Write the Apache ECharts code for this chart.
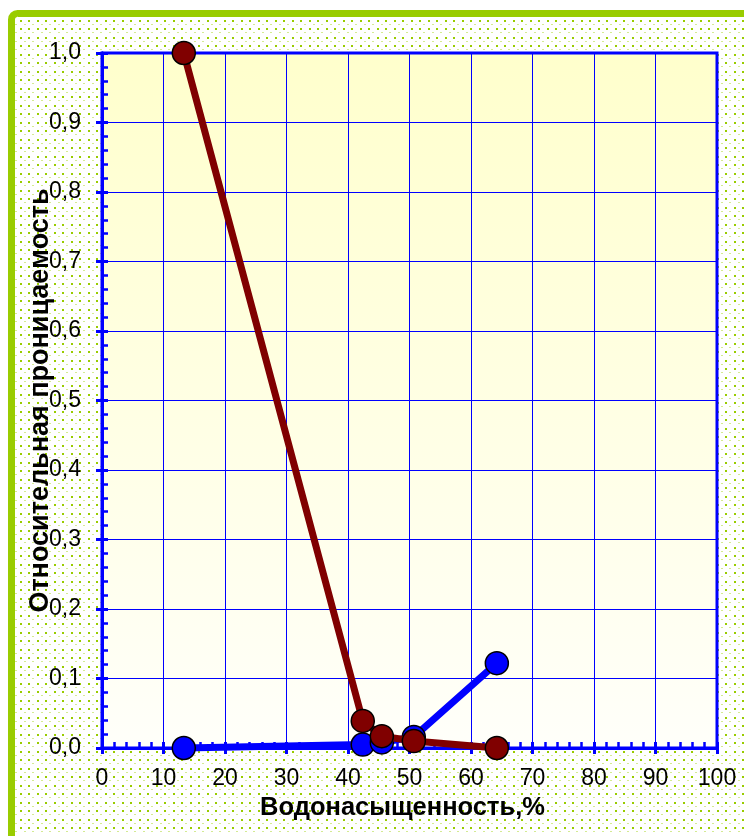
<!DOCTYPE html>
<html>
<head>
<meta charset="utf-8">
<script src="https://cdn.jsdelivr.net/npm/echarts@6/dist/echarts.min.js"></script>
<style>
html,body{margin:0;padding:0;background:#fff;}
#chart{width:744px;height:836px;}
</style>
</head>
<body>
<div id="chart"></div>
<script>
// Data
var waterSaturation = [13.3, 42.4, 45.5, 50.7, 64.2];
var brownSeries = [1.0, 0.039, 0.017, 0.010, 0.0];
var blueSeries = [0.0, 0.005, 0.008, 0.016, 0.122];
var xTicks = [0, 10, 20, 30, 40, 50, 60, 70, 80, 90, 100];
var yTicks = [0.0, 0.1, 0.2, 0.3, 0.4, 0.5, 0.6, 0.7, 0.8, 0.9, 1.0];
var xAxisTitle = 'Водонасыщенность,%';
var yAxisTitle = 'Относительная проницаемость';

function pairs(xs, ys) { return xs.map(function (x, i) { return [x, ys[i]]; }); }

// dotted background pattern
var tile = document.createElement('canvas');
tile.width = 17; tile.height = 17;
var tc = tile.getContext('2d');
tc.fillStyle = '#ffffff'; tc.fillRect(0, 0, 17, 17);
tc.fillStyle = '#99cc00';
[[0,0],[8,0],[0,8],[8,8]].forEach(function (p) { tc.fillRect(p[0] + 3, p[1] + 3, 2, 2); });
tc.fillStyle = '#d4ea94';
[[4,4],[12,4],[4,12],[12,12]].forEach(function (p) { tc.fillRect(p[0] + 3, p[1] + 3, 2, 1); });

var chart = echarts.init(document.getElementById('chart'), null, { renderer: 'canvas' });
var font = '"Liberation Sans", Arial, sans-serif';
var blue = '#0000ff';

var axisCommon = {
  type: 'value',
  axisLine: { show: true, onZero: false, lineStyle: { color: blue, width: 3 } }
};

var option = {
  backgroundColor: '#ffffff',
  animation: false,
  graphic: [{
    type: 'rect',
    z: -10,
    shape: { x: 11.5, y: 13.5, width: 800, height: 900, r: 6 },
    style: { fill: { image: tile, repeat: 'repeat' }, stroke: '#99cc00', lineWidth: 7 }
  }],
  grid: {
    left: 102, right: 27, top: 53, bottom: 88,
    show: true,
    borderColor: blue, borderWidth: 3,
    backgroundColor: {
      type: 'linear', x: 0, y: 0, x2: 0, y2: 1,
      colorStops: [{ offset: 0, color: '#ffffcc' }, { offset: 1, color: '#fffffa' }]
    }
  },
  xAxis: [
    Object.assign({}, axisCommon, {
      min: 0, max: 100, interval: 10, position: 'bottom',
      name: xAxisTitle, nameLocation: 'middle', nameGap: 43,
      nameTextStyle: { fontFamily: font, fontSize: 25.5, fontWeight: 'bold', color: '#000', padding: [0, 14, 0, 0] },
      axisTick: { show: true, length: 6, inside: false, lineStyle: { color: blue, width: 3 } },
      axisLabel: { show: true, margin: 19, fontFamily: font, fontSize: 23, color: '#000',
        formatter: function (v) { return xTicks.indexOf(v) >= 0 ? String(v) : ''; } },
      splitLine: { show: true, lineStyle: { color: blue, width: 1 } }
    }),
    Object.assign({}, axisCommon, {
      min: 0, max: 100, interval: 10, position: 'bottom',
      axisTick: { show: true, length: 6, inside: true, lineStyle: { color: blue, width: 3 } },
      minorTick: { show: true, splitNumber: 5, length: 6, lineStyle: { color: blue, width: 2.5 } },
      axisLabel: { show: false },
      splitLine: { show: false }
    })
  ],
  yAxis: [
    Object.assign({}, axisCommon, {
      min: 0, max: 1, interval: 0.1, position: 'left',
      name: yAxisTitle, nameLocation: 'middle', nameGap: 48, nameMoveOverlap: false,
      nameTextStyle: { fontFamily: font, fontSize: 27, fontWeight: 'bold', color: '#000' },
      axisTick: { show: true, length: 6, inside: false, lineStyle: { color: blue, width: 3 } },
      axisLabel: { show: true, margin: 21, fontFamily: font, fontSize: 23, color: '#000',
        formatter: function (v) { return v.toFixed(1).replace('.', ','); } },
      splitLine: { show: true, lineStyle: { color: blue, width: 1 } }
    }),
    Object.assign({}, axisCommon, {
      min: 0, max: 1, interval: 0.1, position: 'left',
      axisTick: { show: true, length: 6, inside: true, lineStyle: { color: blue, width: 3 } },
      minorTick: { show: true, splitNumber: 5, length: 6, lineStyle: { color: blue, width: 2.5 } },
      axisLabel: { show: false },
      splitLine: { show: false }
    })
  ],
  series: [
    {
      name: 'Кв', type: 'line', xAxisIndex: 0, yAxisIndex: 0,
      data: pairs(waterSaturation, blueSeries),
      clip: false, z: 3,
      symbol: 'circle', symbolSize: 23,
      lineStyle: { color: blue, width: 7 },
      itemStyle: { color: blue, borderColor: '#000', borderWidth: 1.5 }
    },
    {
      name: 'Кн', type: 'line', xAxisIndex: 0, yAxisIndex: 0,
      data: pairs(waterSaturation, brownSeries),
      clip: false, z: 4,
      symbol: 'circle', symbolSize: 23,
      lineStyle: { color: '#800000', width: 7 },
      itemStyle: { color: '#800000', borderColor: '#000', borderWidth: 1.5 }
    }
  ]
};
chart.setOption(option);
</script>
</body>
</html>
